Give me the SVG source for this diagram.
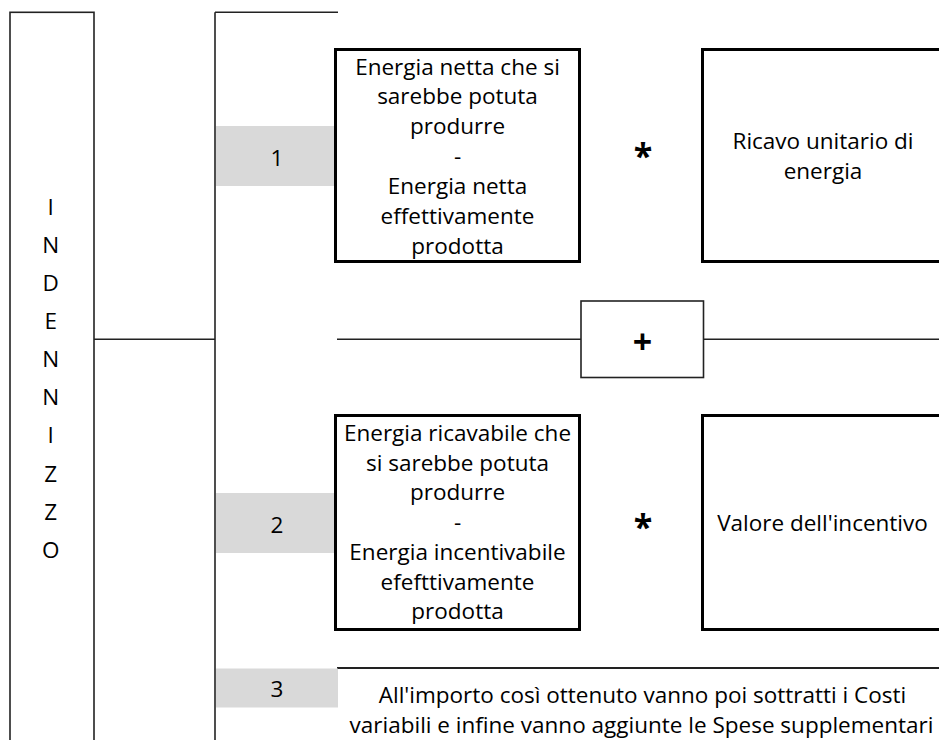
<svg xmlns="http://www.w3.org/2000/svg" width="939" height="740" viewBox="0 0 939 740">
  <style>
    .line { stroke: #222; stroke-width: 1.6; fill: none; }
    .box { stroke: #000; stroke-width: 3; fill: #fff; }
    .thin { stroke: #222; stroke-width: 1.6; fill: #fff; }
    .band { fill: #d9d9d9; }
    text { font-family: "Open Sans", "Noto Sans", "DejaVu Sans", sans-serif; font-size: 22.5px; fill: #000; text-anchor: middle; }
    .op { font-weight: bold; font-size: 34px; }
  </style>
  <rect width="939" height="740" fill="#fff"/>

  <g id="connectors">
    <line class="line" x1="94" y1="339.3" x2="215" y2="339.3"/>
    <line class="line" x1="215" y1="12.3" x2="215" y2="740"/>
    <line class="line" x1="215" y1="12.3" x2="338" y2="12.3"/>
    <line class="line" x1="337" y1="339.3" x2="581" y2="339.3"/>
    <line class="line" x1="703.5" y1="339.3" x2="939" y2="339.3"/>
    <line class="line" x1="337" y1="668" x2="939" y2="668" style="stroke-width:2"/>
  </g>

  <g id="indennizzo">
    <rect class="thin" x="10" y="12.3" width="84" height="740"/>
    <text x="50.7" y="215">I</text>
    <text x="50.7" y="253">N</text>
    <text x="50.7" y="291">D</text>
    <text x="50.7" y="329">E</text>
    <text x="50.7" y="367">N</text>
    <text x="50.7" y="405">N</text>
    <text x="50.7" y="443">I</text>
    <text x="50.7" y="481.5">Z</text>
    <text x="50.7" y="519.5">Z</text>
    <text x="50.7" y="557.5">O</text>
  </g>

  <g id="label1">
    <rect class="band" x="216" y="126" width="119" height="60"/>
    <text x="277" y="165.5">1</text>
  </g>
  <g id="label2">
    <rect class="band" x="216" y="493" width="119" height="60"/>
    <text x="277" y="532.5">2</text>
  </g>
  <g id="label3">
    <rect class="band" x="216" y="668.5" width="122" height="39"/>
    <text x="277" y="697">3</text>
  </g>

  <g id="box1">
    <rect class="box" x="335.5" y="49.5" width="244" height="212"/>
    <text x="457.5" y="74.5">Energia netta che si</text>
    <text x="457.5" y="104.4">sarebbe potuta</text>
    <text x="457.5" y="134.3">produrre</text>
    <text x="457.5" y="164.2">-</text>
    <text x="457.5" y="194.1">Energia netta</text>
    <text x="457.5" y="224">effettivamente</text>
    <text x="457.5" y="253.9">prodotta</text>
  </g>

  <g id="times1">
    <text class="op" x="643" y="168">*</text>
  </g>

  <g id="ricavo">
    <rect class="box" x="702.5" y="49.5" width="250" height="212"/>
    <text x="823" y="149">Ricavo unitario di</text>
    <text x="823" y="179">energia</text>
  </g>

  <g id="plus">
    <rect class="thin" x="581" y="301" width="122.5" height="76.5"/>
    <text class="op" x="642.6" y="354">+</text>
  </g>

  <g id="box2">
    <rect class="box" x="335.5" y="415.5" width="244" height="214"/>
    <text x="457.5" y="440.7">Energia ricavabile che</text>
    <text x="457.5" y="470.5">si sarebbe potuta</text>
    <text x="457.5" y="500.2">produrre</text>
    <text x="457.5" y="530">-</text>
    <text x="457.5" y="559.7">Energia incentivabile</text>
    <text x="457.5" y="589.5">efefttivamente</text>
    <text x="457.5" y="619.2">prodotta</text>
  </g>

  <g id="times2">
    <text class="op" x="643" y="539">*</text>
  </g>

  <g id="valore">
    <rect class="box" x="702.5" y="415.5" width="250" height="214"/>
    <text x="822.5" y="531">Valore dell'incentivo</text>
  </g>

  <g id="note3">
    <text x="642.5" y="703">All'importo così ottenuto vanno poi sottratti i Costi</text>
    <text x="641.5" y="732.5">variabili e infine vanno aggiunte le Spese supplementari</text>
  </g>
</svg>
